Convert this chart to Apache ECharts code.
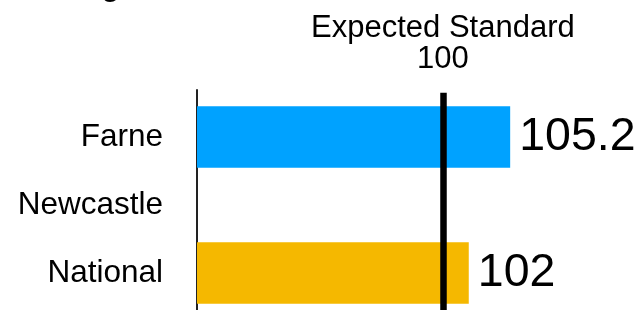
<!DOCTYPE html>
<html>
<head>
<meta charset="utf-8">
<script src="https://cdn.jsdelivr.net/npm/echarts@6/dist/echarts.min.js"></script>
<style>html,body{margin:0;padding:0;background:#fff}#c{width:641px;height:310px}</style>
</head>
<body>
<div id="c"></div>
<script>
const titleText = 'Reading';
const categories = ['Farne', 'Newcastle', 'National'];
const values = [105.2, null, 102];
const barColors = ['#00A2FF', '#00A2FF', '#F5B800'];
const expectedStandard = 100;
const expectedLabel = 'Expected Standard';
const xMin = 81;
const xMax = 115;

const FONT = '"Liberation Sans", Arial, Helvetica, sans-serif';
const chart = echarts.init(document.getElementById('c'));
chart.setOption({
  animation: false,
  title: {
    text: titleText, left: 0, top: -32,
    textStyle: { fontFamily: FONT, fontWeight: 'bold', fontSize: 29, color: '#000' }
  },
  grid: [
    { left: 197, right: 4, top: 103, height: 204 },
    { left: 197, right: 4, top: 90, bottom: 0 }
  ],
  xAxis: [
    { gridIndex: 0, type: 'value', min: xMin, max: xMax, show: false },
    { gridIndex: 1, type: 'value', min: xMin, max: xMax, show: false }
  ],
  yAxis: [
    {
      gridIndex: 0, type: 'category', data: categories, inverse: true,
      axisLine: { show: false }, axisTick: { show: false },
      axisLabel: { fontFamily: FONT, fontSize: 31.5, color: '#000', margin: 34 }
    },
    {
      gridIndex: 1, type: 'value', min: 0, max: 1,
      axisLine: { show: true, lineStyle: { color: '#222', width: 2 } },
      axisTick: { show: false }, axisLabel: { show: false }, splitLine: { show: false }
    }
  ],
  series: [
    {
      type: 'bar', xAxisIndex: 0, yAxisIndex: 0,
      barWidth: 61.5,
      data: values.map((v, i) => v == null ? '-' : { value: v, itemStyle: { color: barColors[i] } }),
      label: {
        show: true, position: 'right', distance: 9,
        fontFamily: FONT, fontSize: 46.5, color: '#000'
      }
    },
    {
      type: 'line', xAxisIndex: 1, yAxisIndex: 1, data: [], symbol: 'none',
      silent: true,
      markLine: {
        silent: true, symbol: 'none',
        lineStyle: { color: '#000', width: 6.5, type: 'solid' },
        label: {
          show: true, position: 'end', distance: 18,
          formatter: expectedLabel + '\n' + expectedStandard,
          fontFamily: FONT, fontSize: 31, lineHeight: 31, color: '#000', align: 'center'
        },
        data: [[{ coord: [expectedStandard, 0] }, { coord: [expectedStandard, 0.988] }]]
      }
    }
  ]
});
</script>
</body>
</html>
